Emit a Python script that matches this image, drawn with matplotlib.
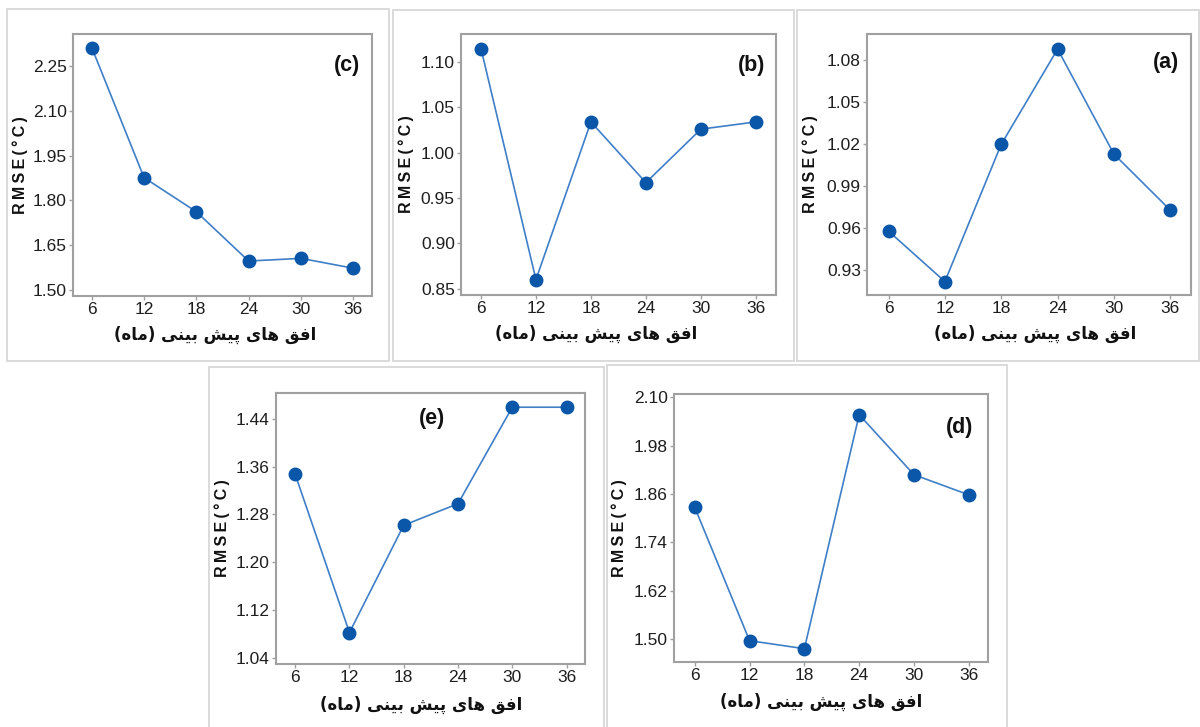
import matplotlib
matplotlib.use("Agg")
import matplotlib.pyplot as plt
from matplotlib.patches import Rectangle
from matplotlib import font_manager as fm

W, H = 1200, 727
horizons = [6, 12, 18, 24, 30, 36]

rmse_a = [0.958, 0.922, 1.020, 1.088, 1.013, 0.973]
rmse_b = [1.115, 0.860, 1.034, 0.967, 1.026, 1.034]
rmse_c = [2.311, 1.876, 1.762, 1.597, 1.606, 1.573]
rmse_d = [1.827, 1.496, 1.476, 2.057, 1.908, 1.858]
rmse_e = [1.347, 1.083, 1.262, 1.298, 1.459, 1.459]

yticks_a = [0.93, 0.96, 0.99, 1.02, 1.05, 1.08]
yticks_b = [0.85, 0.90, 0.95, 1.00, 1.05, 1.10]
yticks_c = [1.50, 1.65, 1.80, 1.95, 2.10, 2.25]
yticks_d = [1.50, 1.62, 1.74, 1.86, 1.98, 2.10]
yticks_e = [1.04, 1.12, 1.20, 1.28, 1.36, 1.44]

panel_labels = ["(a)", "(b)", "(c)", "(d)", "(e)"]

# Persian x-label "افق های پیش بینی (ماه)" in shaped presentation forms, visual order
xlabel_fa = ("(\uFEE9\uFE8E\uFEE3) "
             "\uFEF0\uFEE8\uFEF4\uFE91 "
             "\uFEB6\uFEF4\uFB58 "
             "\uFEEF\uFE8E\uFEEB "
             "\uFED6\uFED3\uFE8D")
ylabel = "R\u2009M\u2009S\u2009E\u2009(\u2009\u00b0\u2009C\u2009)"

names = {f.name for f in fm.fontManager.ttflist}
tick_font = "Liberation Sans Narrow" if "Liberation Sans Narrow" in names else "Liberation Sans"

fig = plt.figure(figsize=(W / 100, H / 100), dpi=100)

def px_rect(x0, y0, x1, y1):
    return [x0 / W, (H - y1) / H, (x1 - x0) / W, (y1 - y0) / H]

panels = [
    # data, yticks, label, axes px, box px, ylim, xlim, label pos, xlabel x
    (rmse_c, yticks_c, "(c)", (73, 34, 372, 296), (7, 9, 389, 361), (1.480, 2.357), (3.84, 38.16), (0.916, 0.878), 0.475),
    (rmse_b, yticks_b, "(b)", (461, 34, 776, 295), (393, 10, 794, 361), (0.843, 1.131), (3.82, 38.2), (0.923, 0.881), 0.43),
    (rmse_a, yticks_a, "(a)", (867, 34, 1191, 295), (797, 10, 1199, 361), (0.9124, 1.0988), (3.71, 38.2), (0.922, 0.890), 0.52),
    (rmse_e, yticks_e, "(e)", (276, 393, 585, 664), (209, 367, 604, 740), (1.0305, 1.4827), (3.88, 38.04), (0.504, 0.906), 0.47),
    (rmse_d, yticks_d, "(d)", (674, 394, 988, 662), (607, 365, 1007, 740), (1.443, 2.1084), (3.73, 38.1), (0.91, 0.875), 0.47),
]

for data, yt, lab, ap, bp, ylim, xlim, lpos, xlx in panels:
    bx0, by0, bx1, by1 = bp
    fig.patches.append(Rectangle((bx0 / W, (H - by1) / H), (bx1 - bx0) / W, (by1 - by0) / H,
                                 transform=fig.transFigure, fill=False,
                                 edgecolor="#d4d4d4", linewidth=1.2, zorder=0))
    ax = fig.add_axes(px_rect(*ap))
    ax.plot(horizons, data, color="#3f7fc8", linewidth=1.2, zorder=2)
    ax.plot(horizons, data, linestyle="none", marker="o", markersize=9,
            color="#0a56a8", markeredgecolor="#0a56a8", zorder=3)
    ax.set_xlim(*xlim)
    ax.set_ylim(*ylim)
    ax.set_xticks(horizons)
    ax.set_xticklabels([str(h) for h in horizons])
    ax.set_yticks(yt)
    ax.set_yticklabels([f"{v:.2f}" for v in yt])
    for s in ax.spines.values():
        s.set_color("#a0a0a0")
        s.set_linewidth(1.5)
    ax.tick_params(axis="both", direction="out", length=3, width=1, color="#a0a0a0",
                   labelsize=12.5, labelcolor="#1e1e1e", pad=1.5)
    for t in ax.get_xticklabels() + ax.get_yticklabels():
        t.set_fontfamily(tick_font)
    ax.set_xlabel(xlabel_fa, fontsize=12, fontweight="bold", family="DejaVu Sans", color="#111111")
    ax.xaxis.label.set_va("center")
    ax.xaxis.set_label_coords(xlx, -0.15)
    ax.set_ylabel(ylabel, fontsize=11.5, fontweight="bold", family=["Liberation Sans", "DejaVu Sans"],
                  color="#111111")
    ax.yaxis.label.set_va("center")
    ax.yaxis.set_label_coords(-0.175, 0.5)
    ax.text(lpos[0], lpos[1], lab, transform=ax.transAxes, ha="center", va="center",
            fontsize=15.5, fontweight="bold", family="Liberation Sans", color="#111111")

fig.savefig("out.png", dpi=100, facecolor="white")
